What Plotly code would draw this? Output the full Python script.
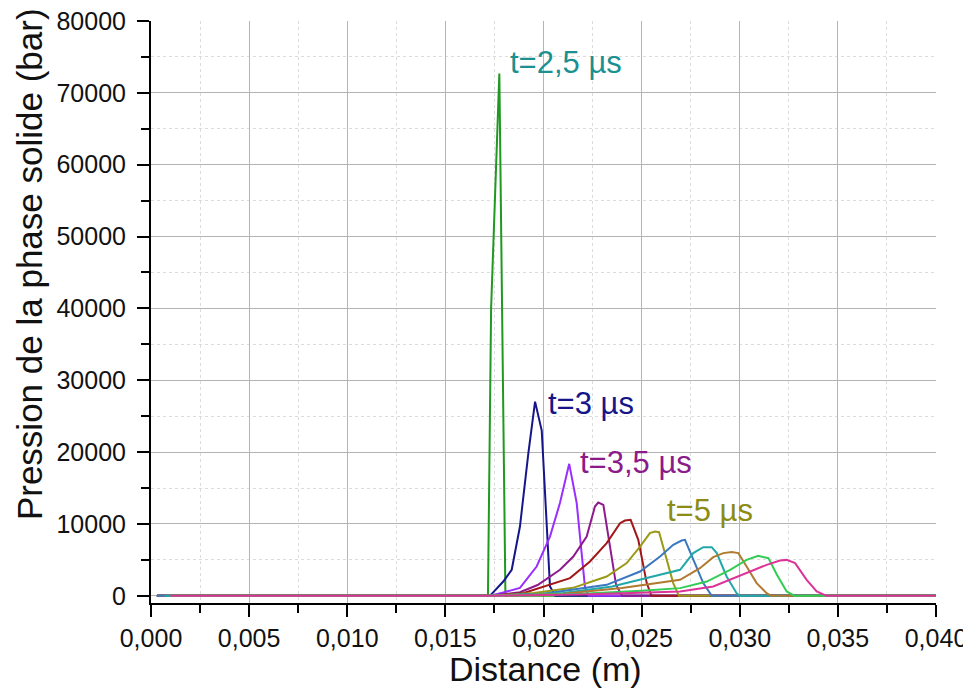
import plotly.graph_objects as go

# ---- data ----
x_green = [0.0003, 0.01717, 0.01733, 0.01775, 0.01806, 0.0400]
y_green = [0, 0, 40000, 72700, 0, 0]

x_navy = [0.0003, 0.01727, 0.01795, 0.01838, 0.01880, 0.01923, 0.01957, 0.01991, 0.02033, 0.0206, 0.0400]
y_navy = [0, 0, 1990, 3620, 9640, 19900, 27030, 23000, 1300, 0, 0]

x_violet = [0.0003, 0.0173, 0.0180, 0.0188, 0.01965, 0.02033, 0.02084, 0.02131, 0.02169, 0.02211, 0.0223, 0.0400]
y_violet = [0, 0, 500, 1100, 4080, 8250, 12940, 18370, 12940, 1300, 0, 0]

x_purple = [0.0003, 0.0173, 0.0188, 0.0197, 0.02084, 0.02152, 0.02220, 0.02262, 0.02279, 0.02305, 0.02370, 0.0240, 0.0400]
y_purple = [0, 0, 500, 1500, 3620, 5470, 8250, 12420, 12980, 12660, 1500, 0, 0]

x_darkred = [0.0003, 0.0173, 0.0190, 0.02135, 0.02237, 0.02322, 0.02390, 0.02415, 0.02444, 0.02483, 0.02526, 0.0255, 0.0400]
y_darkred = [0, 0, 400, 2460, 4770, 7330, 10110, 10480, 10570, 7790, 1770, 0, 0]

x_olive = [0.0003, 0.0173, 0.0195, 0.0215, 0.02322, 0.02424, 0.02492, 0.02542, 0.02568, 0.02589, 0.02628, 0.02661, 0.0269, 0.0400]
y_olive = [0, 0, 400, 1110, 2690, 4550, 6860, 8720, 8950, 8860, 5010, 1770, 0, 0]

x_steel = [0.0003, 0.0173, 0.0200, 0.02322, 0.02492, 0.02594, 0.02661, 0.02704, 0.02721, 0.02763, 0.02814, 0.02857, 0.0400]
y_steel = [0, 0, 300, 1530, 3380, 5470, 7100, 7700, 7790, 5010, 1770, 0, 0]

x_teal = [0.0007, 0.0173, 0.0210, 0.0235, 0.02696, 0.02763, 0.02814, 0.02857, 0.02883, 0.02933, 0.02984, 0.0300, 0.0400]
y_teal = [0, 0, 400, 1300, 3620, 5940, 6770, 6770, 5940, 2690, 370, 0, 0]

x_brown = [0.0010, 0.0173, 0.0210, 0.0240, 0.02696, 0.02797, 0.02865, 0.02916, 0.02959, 0.02993, 0.03035, 0.03086, 0.03137, 0.0316, 0.0400]
y_brown = [0, 0, 300, 1100, 2230, 3850, 5380, 5940, 6080, 5940, 4080, 1770, 370, 0, 0]

x_lgreen = [0.0010, 0.0173, 0.0220, 0.0250, 0.02696, 0.02832, 0.02951, 0.03035, 0.03094, 0.03146, 0.03188, 0.03239, 0.0328, 0.0400]
y_lgreen = [0, 0, 300, 700, 1070, 1990, 3620, 5010, 5560, 5240, 3000, 600, 0, 0]

x_magenta = [0.0010, 0.0173, 0.0220, 0.0250, 0.02696, 0.02865, 0.03035, 0.03137, 0.03205, 0.03239, 0.03282, 0.03341, 0.03392, 0.03443, 0.0400]
y_magenta = [0, 0, 200, 450, 600, 1300, 3150, 4310, 4910, 5000, 4540, 2230, 600, 0, 0]

series = [
    (x_green, y_green, "#1f991f"),
    (x_navy, y_navy, "#16168a"),
    (x_violet, y_violet, "#9a2eff"),
    (x_purple, y_purple, "#8e1a8e"),
    (x_darkred, y_darkred, "#a01818"),
    (x_olive, y_olive, "#9a9a16"),
    (x_steel, y_steel, "#3a78c0"),
    (x_teal, y_teal, "#22a8a8"),
    (x_brown, y_brown, "#b07a30"),
    (x_lgreen, y_lgreen, "#33cc55"),
    (x_magenta, y_magenta, "#dd3399"),
]

label_texts = ["t=2,5 µs", "t=3 µs", "t=3,5 µs", "t=5 µs"]
label_x = [0.02115, 0.02242, 0.02469, 0.02846]
label_y = [74160, 26710, 18500, 11830]
label_colors = ["#1a9090", "#16168a", "#8b1a8b", "#8c8c14"]

x_ticks = [0.000, 0.005, 0.010, 0.015, 0.020, 0.025, 0.030, 0.035, 0.040]
y_ticks = [0, 10000, 20000, 30000, 40000, 50000, 60000, 70000, 80000]

x_title = "Distance (m)"
y_title = "Pression de la phase solide (bar)"

FONT = "Liberation Sans, Arial"
TXT = "#111111"

fig = go.Figure()
for xs, ys, c in series:
    fig.add_trace(go.Scatter(x=xs, y=ys, mode="lines",
                             line=dict(color=c, width=2), showlegend=False))

for t, lx, ly, lc in zip(label_texts, label_x, label_y, label_colors):
    fig.add_annotation(x=lx, y=ly, text=t, showarrow=False,
                       font=dict(size=31, color=lc, family=FONT),
                       xanchor="center", yanchor="middle")

# axis titles placed as in the reference
fig.add_annotation(xref="paper", yref="paper", x=-0.154, y=0.5825, text=y_title,
                   textangle=-90, showarrow=False, xanchor="center", yanchor="middle",
                   font=dict(size=35, color=TXT, family=FONT))
fig.add_annotation(xref="paper", yref="paper", x=0.502, y=-0.1135, text=x_title,
                   showarrow=False, xanchor="center", yanchor="middle",
                   font=dict(size=34, color=TXT, family=FONT))

# hide gridlines on the top/right edges (reference has none there)
fig.add_shape(type="line", xref="x", yref="paper", x0=0.04, x1=0.04, y0=0, y1=1,
              line=dict(color="white", width=3), layer="between")
fig.add_shape(type="line", xref="paper", yref="y", x0=0, x1=1, y0=80000, y1=80000,
              line=dict(color="white", width=3), layer="between")

fig.update_xaxes(
    range=[0, 0.04], tickvals=x_ticks, tickformat=".3f", automargin=False,
    ticklabeloverflow="allow",
    showline=True, linecolor="black", linewidth=2,
    ticks="outside", ticklen=12, tickwidth=2, tickcolor="black",
    showgrid=True, gridcolor="#b4b4b4", gridwidth=1, zeroline=False,
    minor=dict(dtick=0.0025, tick0=0, ticks="outside", ticklen=8, tickwidth=2,
               tickcolor="black", showgrid=True, gridcolor="#dcdcdc", griddash="dot"),
    tickfont=dict(size=25, color=TXT, family=FONT),
)
fig.update_yaxes(
    range=[-1000, 80000], tickvals=y_ticks, tickformat="d", automargin=False,
    ticklabeloverflow="allow",
    showline=True, linecolor="black", linewidth=2,
    ticks="outside", ticklen=12, tickwidth=2, tickcolor="black",
    ticklabelstandoff=6,
    showgrid=True, gridcolor="#b4b4b4", gridwidth=1, zeroline=False,
    minor=dict(dtick=5000, tick0=0, ticks="outside", ticklen=8, tickwidth=2,
               tickcolor="black", showgrid=True, gridcolor="#dcdcdc", griddash="dot"),
    tickfont=dict(size=25, color=TXT, family=FONT),
)

# the page adds an 8px body margin; margins are chosen so the plot area matches
fig.update_layout(
    width=971, height=684,
    margin=dict(l=143, r=43, t=13, b=89),
    plot_bgcolor="white", paper_bgcolor="white",
    separators=", ",
    font=dict(family=FONT),
)

fig.write_html("out.html")
